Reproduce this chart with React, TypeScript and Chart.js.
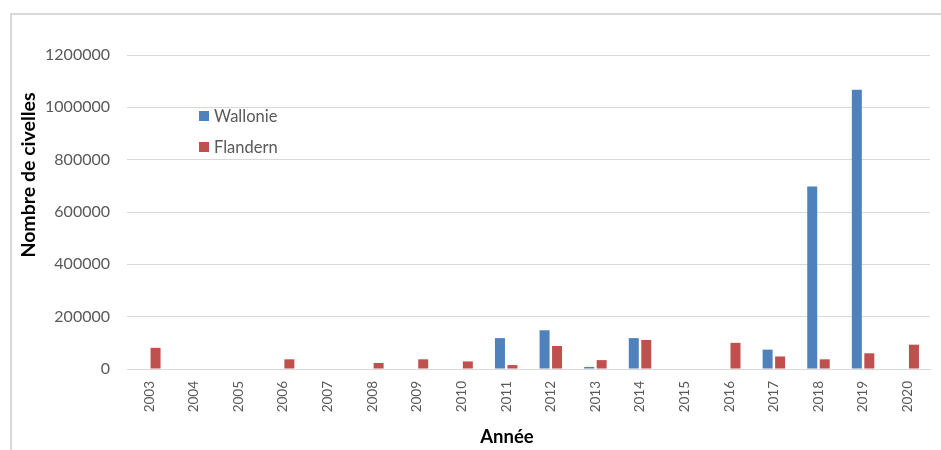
import React, { useEffect, useRef } from "react";
import { Chart, registerables } from "chart.js";

Chart.register(...registerables);

const years = ["2003", "2004", "2005", "2006", "2007", "2008", "2009", "2010", "2011", "2012", "2013", "2014", "2015", "2016", "2017", "2018", "2019", "2020"];
const wallonie = [null, null, null, null, null, null, null, null, 118000, 148000, 8000, 118000, null, null, 74000, 697000, 1067000, null];
const flandern = [81000, null, null, 37000, null, 23000, 37000, 29000, 15000, 88000, 34000, 111000, null, 100000, 48000, 37000, 60000, 93000];
const seriesNames = ["Wallonie", "Flandern"];
const yTitle = "Nombre de civelles";
const xTitle = "Année";

const BLUE = "#4f81bd";
const RED = "#c0504d";
const FONT = "Lato, 'Open Sans', sans-serif";

export default function App() {
  const ref = useRef<HTMLCanvasElement>(null);

  useEffect(() => {
    if (!ref.current) return;
    const overlay = {
      id: "overlay",
      afterDraw(chart: any) {
        const ctx = chart.ctx as CanvasRenderingContext2D;
        ctx.save();
        // Legend
        const items = [
          { label: seriesNames[0], color: BLUE, y: 116 },
          { label: seriesNames[1], color: RED, y: 147 },
        ];
        ctx.font = `16.5px ${FONT}`;
        ctx.textBaseline = "middle";
        ctx.textAlign = "left";
        for (const it of items) {
          ctx.fillStyle = it.color;
          ctx.fillRect(199, it.y - 5, 10, 10);
          ctx.fillStyle = "#595959";
          ctx.fillText(it.label, 214, it.y + 1);
        }
        // Y title
        ctx.fillStyle = "#000";
        ctx.font = `bold 19.5px ${FONT}`;
        ctx.textAlign = "center";
        ctx.textBaseline = "middle";
        ctx.translate(29, 175);
        ctx.rotate(-Math.PI / 2);
        ctx.fillText(yTitle, 0, 0);
        ctx.restore();
        ctx.save();
        ctx.fillStyle = "#000";
        ctx.font = `bold 18.5px ${FONT}`;
        ctx.textAlign = "center";
        ctx.textBaseline = "middle";
        ctx.fillText(xTitle, 507, 437);
        ctx.restore();
      },
    };

    const chart = new Chart(ref.current, {
      type: "bar",
      data: {
        labels: years,
        datasets: [
          { label: seriesNames[0], data: wallonie as any, backgroundColor: BLUE, barPercentage: 0.8, categoryPercentage: 0.56 },
          { label: seriesNames[1], data: flandern as any, backgroundColor: RED, barPercentage: 0.8, categoryPercentage: 0.56 },
        ],
      },
      options: {
        animation: false,
        responsive: false,
        devicePixelRatio: 1,
        layout: { padding: { top: 55, right: 11, bottom: 0, left: 0 } },
        plugins: {
          legend: { display: false },
          tooltip: { enabled: false },
        },
        scales: {
          x: {
            grid: { display: false, drawTicks: false },
            border: { display: true, color: "#d9d9d9" },
            ticks: {
              maxRotation: 90,
              minRotation: 90,
              padding: 12,
              color: "#595959",
              font: { family: FONT, size: 13.5 },
              autoSkip: false,
            },
            afterFit(scale: any) {
              scale.height = 81;
            },
          },
          y: {
            min: 0,
            max: 1200000,
            grid: { color: "#d9d9d9", drawTicks: false, lineWidth: 1 },
            border: { display: false },
            ticks: {
              stepSize: 200000,
              padding: 17,
              color: "#595959",
              font: { family: FONT, size: 16 },
              callback: (v: any) => String(v),
            },
            afterFit(scale: any) {
              scale.width = 127;
            },
          },
        },
      },
      plugins: [overlay],
    });
    return () => chart.destroy();
  }, []);

  return (
    <div style={{ position: "fixed", left: 0, top: 0, width: 941, height: 450, background: "#fff", overflow: "hidden" }}>
      <div style={{ position: "absolute", left: 10, top: 13, width: 980, height: 480, border: "2px solid #d9d9d9" }} />
      <canvas ref={ref} width={941} height={450} style={{ position: "absolute", left: 0, top: 0, width: 941, height: 450 }} />
    </div>
  );
}
